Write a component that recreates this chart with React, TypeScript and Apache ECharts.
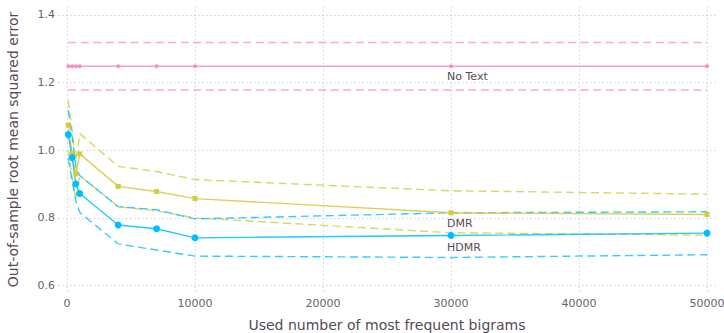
import React, { useEffect, useRef } from "react";
import * as echarts from "echarts";

const bigrams = [100, 400, 700, 1000, 4000, 7000, 10000, 30000, 50000];

const noTextMean = [1.248, 1.248, 1.248, 1.248, 1.248, 1.248, 1.248, 1.248, 1.248];
const noTextUpper = [1.318, 1.318, 1.318, 1.318, 1.318, 1.318, 1.318, 1.318, 1.318];
const noTextLower = [1.178, 1.178, 1.178, 1.178, 1.178, 1.178, 1.178, 1.178, 1.178];

const dmrMean = [1.074, 0.99, 0.93, 0.989, 0.893, 0.878, 0.857, 0.815, 0.81];
const dmrUpper = [1.148, 1.06, 0.97, 1.049, 0.952, 0.937, 0.913, 0.88, 0.87];
const dmrLower = [1.0, 0.92, 0.857, 0.925, 0.833, 0.821, 0.8, 0.756, 0.749];

const hdmrMean = [1.046, 0.978, 0.9, 0.872, 0.779, 0.768, 0.741, 0.748, 0.755];
const hdmrUpper = [1.118, 1.04, 0.95, 0.925, 0.833, 0.824, 0.797, 0.815, 0.818];
const hdmrLower = [0.975, 0.91, 0.85, 0.816, 0.723, 0.705, 0.687, 0.683, 0.691];

const xTicks = [0, 10000, 20000, 30000, 40000, 50000];
const yTicks = [0.6, 0.8, 1.0, 1.2, 1.4];

const labelAt = 30000;

const PINK = "#ff6dae";
const YELLOW = "#d4ca3a";
const BLUE = "#00bfff";
const FONT = "DejaVu Sans";

function pairs(vals: number[], name?: string) {
  return bigrams.map((x, i) => {
    if (name && x === labelAt) {
      return {
        value: [x, vals[i]],
        label: {
          show: true,
          formatter: name,
          position: "bottom",
          align: "left",
          distance: 3,
          offset: [-4, 0],
          color: "#564a55",
          fontFamily: FONT,
          fontSize: 11,
        },
      };
    }
    return [x, vals[i]];
  });
}

function dashed(vals: number[], color: string, opacity: number) {
  return {
    type: "line",
    data: pairs(vals),
    showSymbol: false,
    symbol: "none",
    lineStyle: { color, width: 1.4, type: [8, 4.5], opacity },
    silent: true,
    z: 2,
  };
}

function solid(vals: number[], color: string, symbol: string, size: number, name: string) {
  return {
    type: "line",
    data: pairs(vals, name),
    symbol,
    symbolSize: size,
    showSymbol: true,
    lineStyle: { color, width: 1.4, opacity: 0.85 },
    itemStyle: { color, opacity: 1 },
    z: 3,
  };
}

export default function App() {
  const ref = useRef<HTMLDivElement>(null);
  useEffect(() => {
    if (!ref.current) return;
    const chart = echarts.init(ref.current, undefined, { renderer: "svg" });
    chart.setOption({
      animation: false,
      backgroundColor: "#ffffff",
      grid: {
        left: 58,
        right: 8,
        top: 6,
        bottom: 40,
        containLabel: false,
        outerBoundsMode: "none",
      },
      xAxis: {
        type: "value",
        min: -700,
        max: 50700,
        name: "Used number of most frequent bigrams",
        nameLocation: "middle",
        nameGap: 25,
        nameTextStyle: { color: "#564a55", fontFamily: FONT, fontSize: 14 },
        axisLine: { show: false },
        axisTick: { show: false, customValues: xTicks },
        axisLabel: {
          customValues: xTicks,
          color: "#6c606b",
          fontFamily: FONT,
          fontSize: 11,
          margin: 5,
          formatter: (v: number) => String(v),
        },
        splitLine: { show: true, lineStyle: { color: "#d0d0e0", type: [1.5, 2.5], width: 1 } },
      },
      yAxis: {
        type: "value",
        min: 0.578,
        max: 1.426,
        name: "Out-of-sample root mean squared error",
        nameLocation: "middle",
        nameGap: 38,
        nameTextStyle: { color: "#564a55", fontFamily: FONT, fontSize: 14 },
        axisLine: { show: false },
        axisTick: { show: false, customValues: yTicks },
        axisLabel: {
          customValues: yTicks,
          color: "#6c606b",
          fontFamily: FONT,
          fontSize: 11,
          margin: 3,
          formatter: (v: number) => v.toFixed(1),
        },
        splitLine: { show: true, lineStyle: { color: "#d0d0e0", type: [1.5, 2.5], width: 1 } },
      },
      series: [
        dashed(noTextUpper, PINK, 0.6),
        dashed(noTextLower, PINK, 0.6),
        dashed(dmrUpper, YELLOW, 0.8),
        dashed(dmrLower, YELLOW, 0.8),
        dashed(hdmrUpper, BLUE, 0.8),
        dashed(hdmrLower, BLUE, 0.8),
        solid(noTextMean, "#ff8cc0", "circle", 4, "No Text"),
        solid(dmrMean, YELLOW, "rect", 5, "DMR"),
        solid(hdmrMean, BLUE, "circle", 7, "HDMR"),
      ],
    });
    return () => chart.dispose();
  }, []);
  return (
    <div
      ref={ref}
      style={{ position: "absolute", left: 0, top: 0, width: 724, height: 333 }}
    />
  );
}
